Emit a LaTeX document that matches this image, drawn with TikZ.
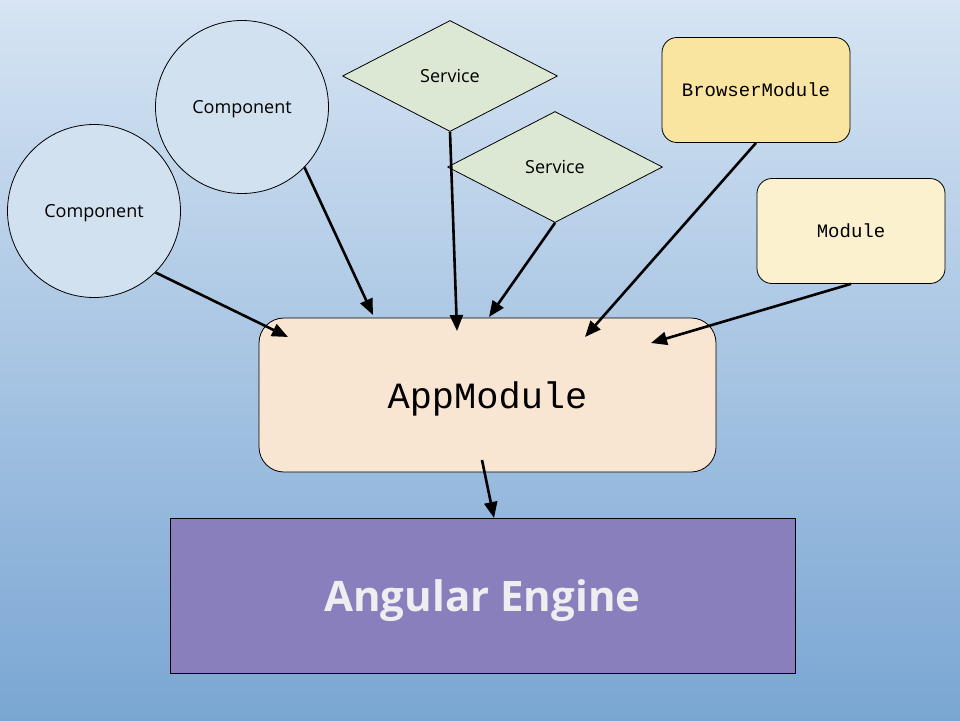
\documentclass[tikz,border=0pt]{standalone}
\usepackage{fontspec}
\setmainfont{Open Sans}
\newfontfamily\codefont{Liberation Mono}
\usepackage{tikz}
\usetikzlibrary{shapes.geometric,arrows.meta}

\definecolor{bgtop}{RGB}{214,228,243}
\definecolor{bgbot}{RGB}{122,166,211}
\definecolor{cmpfill}{RGB}{210,225,240}
\definecolor{srvfill}{RGB}{220,232,212}
\definecolor{brwfill}{RGB}{249,228,160}
\definecolor{modfill}{RGB}{252,241,207}
\definecolor{appfill}{RGB}{248,230,210}
\definecolor{engfill}{RGB}{138,127,189}
\definecolor{engtext}{RGB}{238,238,240}

\begin{document}
\begin{tikzpicture}[x=1pt, y=-1pt,
    comp node/.style={circle, draw, fill=cmpfill, line width=0.8pt, minimum size=173pt, inner sep=0pt, text depth=0pt, font=\fontsize{18}{22}\selectfont},
    serv node/.style={diamond, draw, fill=srvfill, line width=0.8pt, aspect=1.94, minimum width=215pt, minimum height=111pt, inner sep=0pt, text depth=0pt, font=\fontsize{18}{22}\selectfont},
    mod node/.style={rectangle, rounded corners=15pt, draw, line width=0.8pt, minimum width=188pt, minimum height=105pt, text depth=0pt, font=\codefont\fontsize{19}{23}\selectfont},
    dep/.style={-{Triangle[length=16pt,width=13pt]}, line width=2.6pt}]
    % background
    \shade[top color=bgtop, bottom color=bgbot] (0,0) rectangle (960,720);
    \useasboundingbox (0,0) rectangle (960,720);

    \node[comp node](cmpa) at (94,211) {Component};
    \node[comp node](cmpb) at (242,107) {Component};
    \node[serv node](srva) at (450,76) {Service};
    \node[serv node](srvb) at (555,167) {Service};
    \node[mod node, fill=brwfill](browser) at (756,90) {BrowserModule};
    \node[mod node, fill=modfill](module) at (851,231) {Module};
    \node[rectangle, rounded corners=25pt, draw, fill=appfill, line width=0.8pt, minimum width=457pt, minimum height=154pt,
          text depth=0pt, font=\codefont\fontsize{37}{44}\selectfont](app) at (487.5,395) {AppModule};
    \node[rectangle, draw, fill=engfill, line width=0.8pt, minimum width=625pt, minimum height=155pt,
          text=engtext, text depth=0pt, font=\bfseries\fontsize{42}{50}\selectfont](engine) at (482.5,595.5) {Angular Engine};

    % free ends of the arrows
    \coordinate (ta) at (288,337);
    \coordinate (tb) at (373,315);
    \coordinate (tc) at (457,331);
    \coordinate (td) at (489,317);
    \coordinate (te) at (585,337);
    \coordinate (tf) at (651,343);
    \coordinate (out) at (482,460);
    \coordinate (tg) at (494,518);

    \draw[dep] (cmpa.-45) -- (ta);
    \draw[dep] (cmpb.-44) -- (tb);
    \draw[dep] (srva.south) -- (tc);
    \draw[dep] (srvb.south) -- (td);
    \draw[dep] (browser.south) -- (te);
    \draw[dep] (module.south) -- (tf);
    \draw[dep] (out) -- (tg);
\end{tikzpicture}
\end{document}
